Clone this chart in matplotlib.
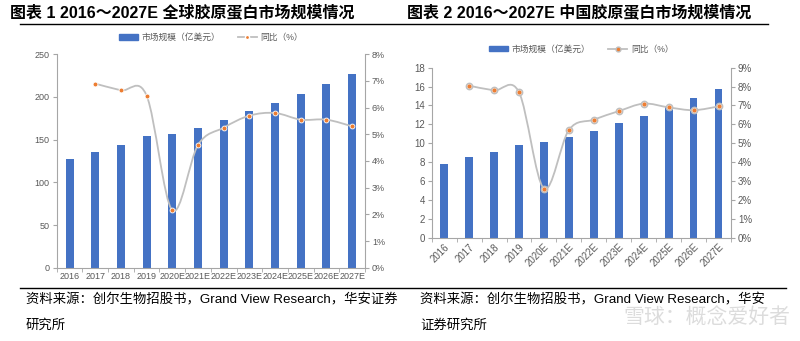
import numpy as np
import matplotlib.pyplot as plt
from matplotlib.path import Path
from matplotlib.patches import PathPatch
from matplotlib.lines import Line2D
from matplotlib.ticker import FuncFormatter, MultipleLocator

plt.rcParams['font.family'] = ['Liberation Sans', 'Noto Sans CJK SC', 'DejaVu Sans']

years = ["2016", "2017", "2018", "2019", "2020E", "2021E", "2022E",
         "2023E", "2024E", "2025E", "2026E", "2027E"]

# 全球 (亿美元) and YoY
global_size = [127, 136, 144, 154, 157, 164, 173, 183, 193, 204, 215, 227]
global_yoy = [None, 0.069, 0.0665, 0.0645, 0.0215, 0.046, 0.0525, 0.057,
              0.058, 0.0555, 0.0555, 0.053]

# 中国 (亿美元) and YoY
china_size = [7.85, 8.5, 9.1, 9.85, 10.1, 10.65, 11.35, 12.1, 12.9, 13.8, 14.75, 15.75]
china_yoy = [None, 0.0805, 0.078, 0.077, 0.026, 0.057, 0.0625, 0.067,
             0.071, 0.069, 0.0675, 0.0695]

BLUE = "#4472C4"
GREY_LINE = "#BFBFBF"
ORANGE = "#ED7D31"
TXT = "#595959"
AX = "#A6A6A6"


def smooth_path(xs, ys):
    # Catmull-Rom curve as cubic Bezier segments (Excel-like smoothing)
    pts = np.column_stack([xs, ys])
    verts = [pts[0]]
    codes = [Path.MOVETO]
    n = len(pts)
    for i in range(n - 1):
        p0 = pts[i - 1] if i > 0 else pts[i]
        p1, p2 = pts[i], pts[i + 1]
        p3 = pts[i + 2] if i + 2 < n else pts[i + 1]
        c1 = p1 + (p2 - p0) / 6.0
        c2 = p2 - (p3 - p1) / 6.0
        verts += [c1, c2, p2]
        codes += [Path.CURVE4] * 3
    return Path(verts, codes)


def panel(rect, size, yoy, ymax, ystep, pmax, fs, rotate, legend_y, marker_style):
    ax = fig.add_axes(rect)
    x = np.arange(len(years))
    ax.bar(x, size, width=0.31, color=BLUE, zorder=2)
    ax.set_xlim(-0.5, len(years) - 0.5)
    ax.set_ylim(0, ymax)
    ax.yaxis.set_major_locator(MultipleLocator(ystep))
    ax.set_xticks(x)
    if rotate:
        ax.set_xticklabels(years, rotation=45, ha='right', rotation_mode='anchor')
    else:
        ax.set_xticklabels(years)
    ax.set_xticks(np.arange(-0.5, len(years)), minor=True)
    ax.tick_params(axis='x', which='major', length=0, labelsize=fs, colors=TXT, pad=3)
    ax.tick_params(axis='x', which='minor', length=3, color=AX)
    ax.tick_params(axis='y', length=3, color=AX, labelsize=fs, labelcolor=TXT, pad=2)
    for s in ['top', 'right']:
        ax.spines[s].set_visible(False)
    for s in ['left', 'bottom']:
        ax.spines[s].set_color(AX)
        ax.spines[s].set_linewidth(0.8)

    ax2 = ax.twinx()
    ax2.set_ylim(0, pmax)
    ax2.yaxis.set_major_locator(MultipleLocator(0.01))
    ax2.yaxis.set_major_formatter(FuncFormatter(lambda v, p: f"{v * 100:.0f}%"))
    ax2.tick_params(axis='y', length=3, color=AX, labelsize=fs, labelcolor=TXT, pad=2)
    for s in ['top', 'left', 'bottom']:
        ax2.spines[s].set_visible(False)
    ax2.spines['right'].set_color(AX)
    ax2.spines['right'].set_linewidth(0.8)

    lx = [i for i, v in enumerate(yoy) if v is not None]
    ly = [v for v in yoy if v is not None]
    ax2.add_patch(PathPatch(smooth_path(lx, ly), fill=False, edgecolor=GREY_LINE,
                            lw=1.3, zorder=3))
    if marker_style == 'ring':
        ax2.plot(lx, ly, 'o', ms=4.5, mfc='white', mec=GREY_LINE, mew=1.1, zorder=4)
        ax2.plot(lx, ly, 'o', ms=2, color=ORANGE, zorder=5)
    else:
        ax2.plot(lx, ly, 'o', ms=3.5, mfc=ORANGE, mec='white', mew=0.6, zorder=4)

    # legend
    handles = [
        plt.Rectangle((0, 0), 1, 1, color=BLUE),
        Line2D([], [], color=GREY_LINE, lw=1.3, marker='o',
               ms=3.5 if marker_style == 'ring' else 3,
               mfc=ORANGE, mec=GREY_LINE if marker_style == 'ring' else 'white'),
    ]
    fig.legend(handles, ["市场规模（亿美元）", "同比（%）"],
               loc='center', bbox_to_anchor=(rect[0] + rect[2] / 2, legend_y),
               ncol=2, frameon=False, fontsize=6.3,
               labelcolor=TXT, handlelength=2.2, handleheight=0.6,
               columnspacing=2.0, handletextpad=0.4)
    return ax


fig = plt.figure(figsize=(8, 3.41), dpi=100)
H = 341.0

panel([56.7 / 800, 1 - 267.7 / H, (365 - 56.7) / 800, (267.7 - 54.3) / H],
      global_size, global_yoy, 250, 50, 0.08, 6.5, False, 1 - 37.5 / H, 'dot')
panel([431.7 / 800, 1 - 237.7 / H, (731 - 431.7) / 800, (237.7 - 67.7) / H],
      china_size, china_yoy, 18, 2, 0.09, 7, True, 1 - 49 / H, 'ring')

# titles
fig.text(10 / 800, 1 - 12.5 / H, "图表 1 2016～2027E 全球胶原蛋白市场规模情况",
         fontsize=11.5, fontweight='bold', va='center', ha='left')
fig.text(407 / 800, 1 - 12.5 / H, "图表 2 2016～2027E 中国胶原蛋白市场规模情况",
         fontsize=11.5, fontweight='bold', va='center', ha='left')
fig.add_artist(Line2D([20 / 800, 768 / 800], [1 - 24 / H] * 2, color='black', lw=1))
fig.add_artist(Line2D([20 / 800, 786 / 800], [1 - 288 / H] * 2, color='black', lw=1))

# footers
fig.text(26 / 800, 1 - 300 / H, "资料来源：创尔生物招股书，Grand View Research，华安证券",
         fontsize=9.6, va='center', ha='left')
fig.text(26 / 800, 1 - 325 / H, "研究所", fontsize=9.6, va='center', ha='left')
fig.text(420 / 800, 1 - 300 / H, "资料来源：创尔生物招股书，Grand View Research，华安",
         fontsize=9.6, va='center', ha='left')
fig.text(420 / 800, 1 - 325 / H, "证券研究所", fontsize=9.6, va='center', ha='left')
fig.text(790 / 800, 1 - 317 / H, "雪球：概念爱好者", fontsize=15, color='#D9D9D9',
         va='center', ha='right', alpha=0.9)

fig.savefig("out.png", dpi=100)
